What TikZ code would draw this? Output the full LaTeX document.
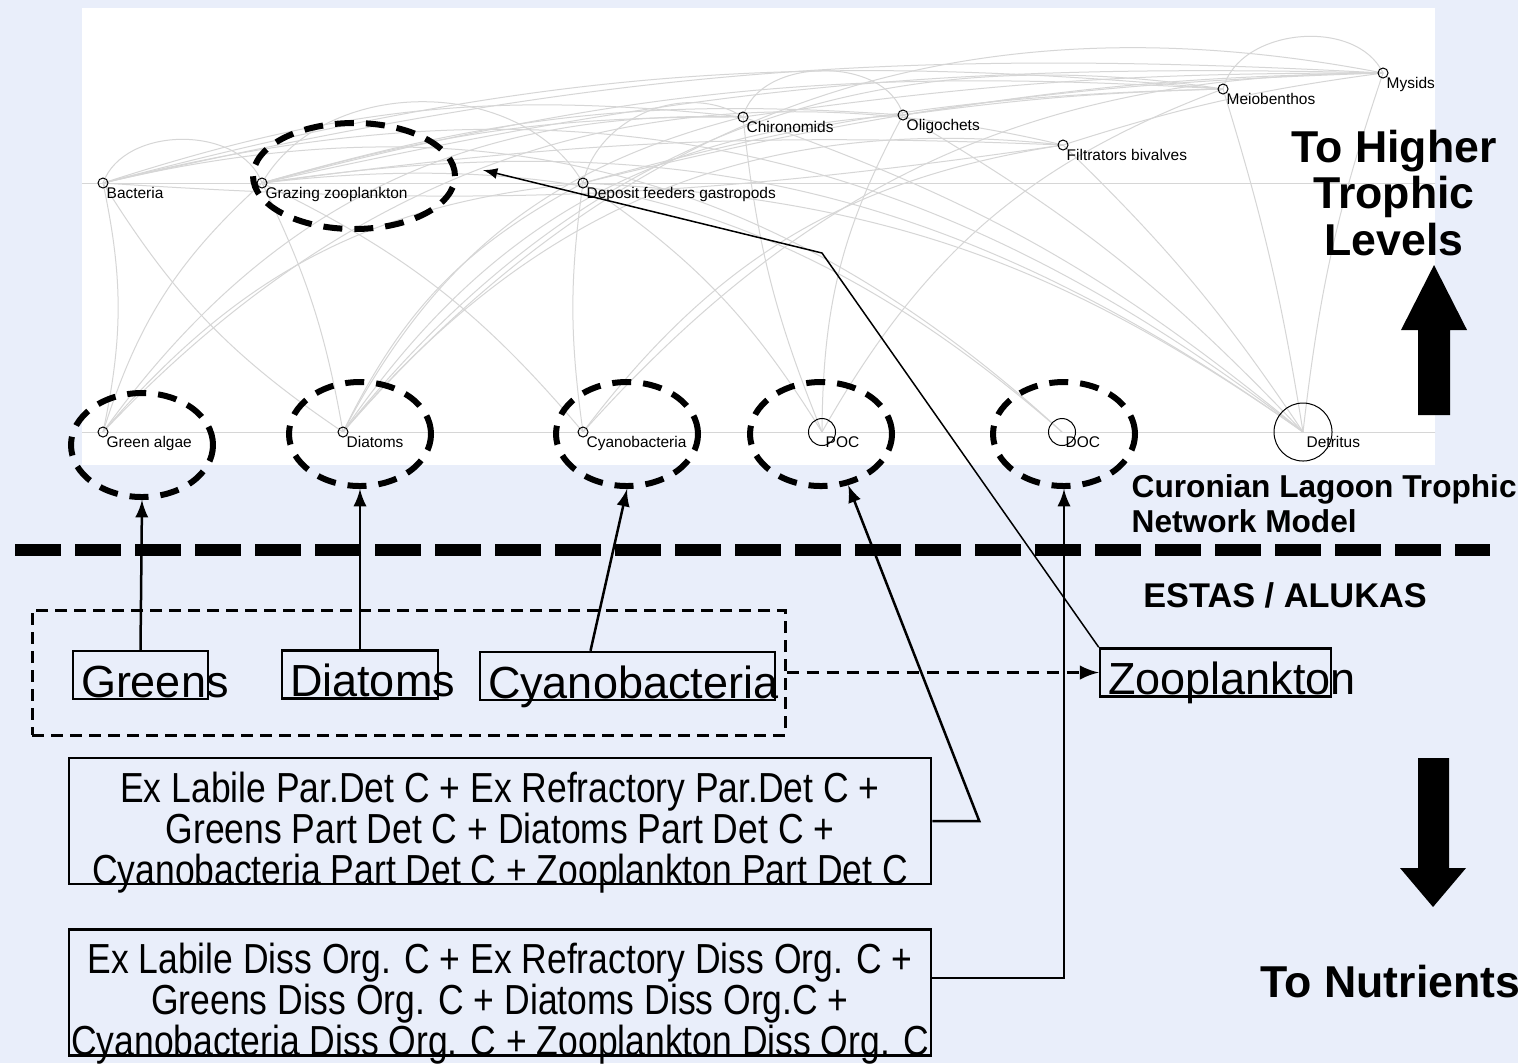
\documentclass[tikz,border=0pt]{standalone}
\usepackage{fontspec}
\setmainfont{Liberation Sans}
\newfontfamily\condfont{Liberation Sans}[FakeStretch=0.845]
\usetikzlibrary{shapes.geometric,backgrounds}
\definecolor{bgblue}{RGB}{233,238,250}
\definecolor{webgray}{RGB}{214,214,214}

\begin{document}
\begin{tikzpicture}[x=0.1mm, y=-0.1mm,
    netedge/.style={draw=webgray, line width=0.1mm},
    netnode/.style={circle, draw=black, line width=0.1mm, inner sep=0pt},
    netlabel/.style={anchor=base west, inner sep=0pt, font=\fontsize{4.4}{5}\selectfont},
    ring/.style={ellipse, draw=black, line width=0.6mm, dash pattern=on 1.9mm off 1.2mm, minimum width=14.2mm, minimum height=10.4mm, inner sep=0pt},
    srcbox/.style={draw=black, line width=0.25mm, inner xsep=0.8mm, inner ysep=0pt, text height=4.6mm, text depth=0.2mm, font=\fontsize{12.8}{15}\selectfont},
    bigbox/.style={draw=black, line width=0.25mm, minimum width=86.2mm, inner sep=0pt, align=center, text height=12.6mm, text depth=0pt, font=\condfont\fontsize{11.95}{11.67}\selectfont},
    groupbox/.style={draw=black, line width=0.3mm, dash pattern=on 1.2mm off 0.7mm},
    flow/.style={line width=0.25mm, -latex},
    boldtext/.style={inner sep=0pt, font=\bfseries\fontsize{12.7}{13.2}\selectfont}]
\useasboundingbox (0,0) rectangle (1518,1063);

\foreach \id/\px/\py/\sz/\txt in {bac/103/183/1/Bacteria, graz/262/183/1/Grazing zooplankton,
    dep/583/183/1/Deposit feeders gastropods, chir/743/117/1/Chironomids, olig/903/115/1/Oligochets,
    filt/1063/145/1/Filtrators bivalves, meio/1223/89/1/Meiobenthos, mys/1383/73/1/Mysids,
    gre/103/432/1/Green algae, dia/343/432/1/Diatoms, cya/583/432/1/Cyanobacteria,
    poc/822/432/2.7/POC, doc/1062/432/2.7/DOC, det/1303/432/5.8/Detritus}
{
    \node[netnode, minimum size=\sz mm] (\id) at (\px,\py) {};
    \node[netlabel] (\id-lab) at ([shift={(3,15)}]\id.center) {\txt};
}

\begin{scope}[on background layer]
    \fill[bgblue] (0,0) rectangle (1518,1063);
    \fill[white] (82,8) rectangle (1435,465);
    \clip (82,8) rectangle (1435,465);
    \draw[netedge, shorten <=-3mm, shorten >=-20mm] (gre.center) -- (det.center);
    \draw[netedge, shorten <=-3mm, shorten >=-90mm] (bac.center) -- (dep.center);
    \foreach \a/\b/\bend in {gre/bac/-12, gre/graz/15, gre/dep/22, gre/chir/28, gre/filt/30,
        dia/graz/-8, dia/bac/12, dia/dep/18, dia/chir/24, dia/olig/26, dia/filt/28, dia/meio/30, dia/mys/30,
        cya/graz/-12, cya/dep/8, cya/filt/22, cya/mys/24,
        poc/chir/8, poc/dep/-12, poc/olig/14, poc/meio/20,
        doc/bac/-28, doc/graz/-24,
        det/bac/-26, det/graz/-22, det/dep/-16, det/chir/-10, det/olig/-8, det/filt/-6, det/meio/-4, det/mys/6,
        bac/mys/8, bac/meio/10, bac/filt/-6, bac/chir/12, graz/mys/7, graz/meio/9, graz/filt/5,
        graz/chir/8, graz/olig/10, dep/mys/6, dep/meio/7, chir/mys/4, olig/mys/4, olig/meio/3, filt/mys/5,
        bac/graz/70, graz/dep/60, dep/chir/55, chir/olig/75, meio/mys/70}
        \draw[netedge] (\a.center) to[bend left=\bend] (\b.center);
\end{scope}

\node[ring] (ringGre) at (142,445) {};
\node[ring] (ringDia) at (360,434) {};
\node[ring] (ringCya) at (627,434) {};
\node[ring] (ringPOC) at (821,434) {};
\node[ring] (ringDOC) at (1064,434) {};
\node[ring, minimum width=20.2mm, minimum height=10.6mm] (ringGraz) at (354,176) {};

\draw[line width=1.2mm, dash pattern=on 4.6mm off 1.4mm] (15,550) -- (1490,550);

\node[groupbox, minimum width=75.3mm, minimum height=12.5mm] (producers) at (408.5,672.5) {};
\node[srcbox] (greens) at (140.5,675) {\makebox[11.9mm][l]{Greens}};
\node[srcbox] (diatoms) at (360,674.5) {\makebox[14mm][l]{Diatoms}};
\node[srcbox] (cyano) at (627.5,676) {\makebox[27.9mm][l]{Cyanobacteria}};
\node[srcbox] (zoo) at (1215.5,672.5) {\makebox[21.5mm][l]{Zooplankton}};

\node[bigbox] (partdet) at (500,821) {Ex Labile Par.Det C + Ex Refractory Par.Det C +\\
    Greens Part Det C + Diatoms Part Det C +\\
    Cyanobacteria Part Det C + Zooplankton Part Det C};
\node[bigbox] (diss) at (500,992.5) {Ex Labile Diss Org. C + Ex Refractory Diss Org. C +\\
    Greens Diss Org. C + Diatoms Diss Org.C +\\
    Cyanobacteria Diss Org. C + Zooplankton Diss Org. C};

\draw[flow] (greens.north) -- (ringGre.south);
\draw[flow] (diatoms.north) -- (ringDia.south);
\draw[flow] ([xshift=-3.7mm]cyano.north) -- (ringCya.south);
\draw[flow] (partdet.east) -- ++(47,0) -- (ringPOC.-62);
\draw[flow] ([yshift=1.45mm]diss.east) -| (ringDOC.south);
\draw[line width=0.3mm, dash pattern=on 1.2mm off 0.8mm, -latex] (producers.east) -- (zoo.west);
\coordinate (kink) at (822,253);
\draw[line width=0.15mm, -latex] (zoo.north west) -- (kink) -- ([shift={(25,-6)}]ringGraz.east);

\fill (1418,415) -- (1418,330) -- (1401,330) -- (1434,265) -- (1467,330) -- (1450,330) -- (1450,415) -- cycle;
\fill (1418,758) -- (1418,868) -- (1400,868) -- (1433,907) -- (1466,868) -- (1449,868) -- (1449,758) -- cycle;

\node[boldtext, align=center] (higher) at (1394,193) {To Higher\\Trophic\\Levels};
\node[boldtext, anchor=base west] (nutrients) at (1260,997) {To Nutrients};
\node[boldtext, font=\bfseries\fontsize{9}{9.96}\selectfont, align=left, anchor=north west] (model) at (1131,474) {Curonian Lagoon Trophic\\Network Model};
\node[boldtext, font=\bfseries\fontsize{9.76}{11}\selectfont] (estas) at (1285,595) {ESTAS / ALUKAS};
\end{tikzpicture}
\end{document}
